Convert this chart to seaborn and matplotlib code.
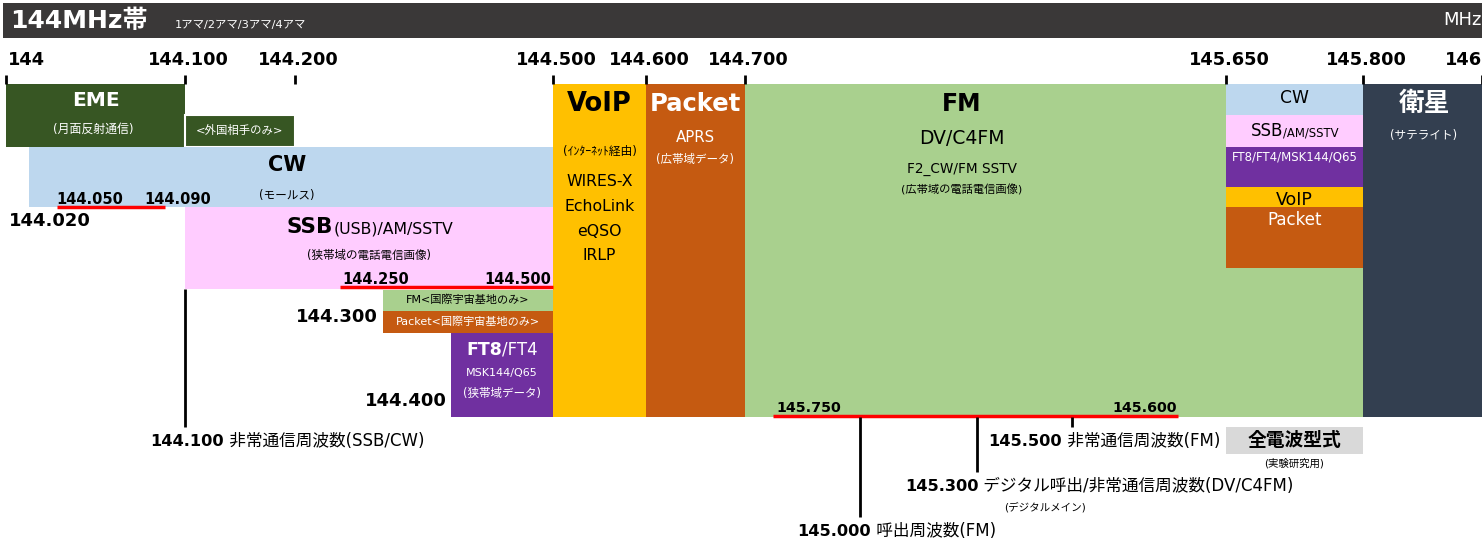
import numpy as np
import matplotlib
matplotlib.use("Agg")
import matplotlib.pyplot as plt
import seaborn as sns

# ---------------- data ----------------
tick_freqs = [144.0, 144.1, 144.2, 144.5, 144.6, 144.7, 145.65, 145.8, 146.0]
tick_labels = ["144", "144.100", "144.200", "144.500", "144.600", "144.700", "145.650", "145.800", "146"]

band_keys = ["EME", "FOREIGN", "CW", "SSB", "FM_ISS", "PKT_ISS", "FT8", "VOIP", "PACKET", "FM",
             "CW2", "SSB2", "FT82", "VOIP2", "PKT2", "SAT"]
band_start = [144.000, 144.100, 144.020, 144.100, 144.300, 144.300, 144.400, 144.500, 144.600, 144.700,
              145.650, 145.650, 145.650, 145.650, 145.650, 145.800]
band_end = [144.100, 144.200, 144.500, 144.500, 144.500, 144.500, 144.500, 144.600, 144.700, 145.800,
            145.800, 145.800, 145.800, 145.800, 145.800, 146.000]

voip_modes = ["WIRES-X", "EchoLink", "eQSO", "IRLP"]
fm_lines = ["DV/C4FM", "F2_CW/FM SSTV", "(広帯域の電話電信画像)"]

red_start = [144.050, 144.250, 144.750]
red_end = [144.090, 144.500, 145.600]

special_freqs = [144.100, 145.000, 145.300, 145.500]
special_nums = ["144.100", "145.000", "145.300", "145.500"]
special_texts = ["非常通信周波数(SSB/CW)", "呼出周波数(FM)", "デジタル呼出/非常通信周波数(DV/C4FM)", "非常通信周波数(FM)"]

# ---------------- layout ----------------
W, H = 1482, 539
ANCHOR_F = np.array([143.9, 144.0, 144.02, 144.05, 144.09, 144.1, 144.2, 144.25, 144.3, 144.4, 144.5,
                     144.6, 144.7, 144.75, 145.0, 145.3, 145.5, 145.6, 145.65, 145.8, 146.0, 146.2])
ANCHOR_PX = np.array([-173, 6, 29, 57, 165, 185, 295, 340, 383, 451, 553,
                      646, 745, 773, 860, 977, 1072, 1178, 1226, 1363, 1482, 1601], dtype=float)


def fwd(f):
    return np.interp(f, ANCHOR_F, ANCHOR_PX)


def inv(p):
    return np.interp(p, ANCHOR_PX, ANCHOR_F)


band_rows = {
    "EME": (84, 147), "FOREIGN": (115, 147), "CW": (147, 207), "SSB": (207, 289),
    "FM_ISS": (290, 311), "PKT_ISS": (311, 333), "FT8": (333, 417),
    "VOIP": (84, 417), "PACKET": (84, 417), "FM": (84, 417),
    "CW2": (84, 115), "SSB2": (115, 147), "FT82": (147, 187), "VOIP2": (187, 207), "PKT2": (207, 268),
    "SAT": (84, 417),
}
C_DKGREEN = "#375623"
C_BLUE = "#BDD7EE"
C_PINK = "#FFCCFF"
C_LGREEN = "#A9D08E"
C_ORANGE = "#C55A11"
C_PURPLE = "#7030A0"
C_YELLOW = "#FFC000"
C_NAVY = "#333F50"
band_colors = {
    "EME": C_DKGREEN, "FOREIGN": C_DKGREEN, "CW": C_BLUE, "SSB": C_PINK, "FM_ISS": C_LGREEN,
    "PKT_ISS": C_ORANGE, "FT8": C_PURPLE, "VOIP": C_YELLOW, "PACKET": C_ORANGE, "FM": C_LGREEN,
    "CW2": C_BLUE, "SSB2": C_PINK, "FT82": C_PURPLE, "VOIP2": C_YELLOW, "PKT2": C_ORANGE, "SAT": C_NAVY,
}

sns.set_theme(style="white")
plt.rcParams["font.family"] = ["DejaVu Sans", "Noto Sans CJK JP"]

fig = plt.figure(figsize=(W / 100, H / 100), dpi=100)
ax = fig.add_axes([0, 0, 1, 1])
ax.set_xscale("function", functions=(fwd, inv))
ax.set_xlim(inv(0), inv(W))
ax.set_ylim(H, 0)
ax.axis("off")
renderer = fig.canvas.get_renderer()


def X(px):
    return float(inv(px))


def mid(f0, f1):
    return X((fwd(f0) + fwd(f1)) / 2)


def txt(xpx, y, s, size, color="black", weight="normal", ha="center", va="center"):
    return ax.text(X(xpx), y, s, fontsize=size, color=color, fontweight=weight, ha=ha, va=va)


def mixed(xpx, ybase, parts, ha="center"):
    objs = []
    widths = []
    for s, size, weight, color in parts:
        t = ax.text(X(0), ybase, s, fontsize=size, fontweight=weight, color=color, ha="left", va="baseline")
        objs.append(t)
        widths.append(t.get_window_extent(renderer).width)
    total = sum(widths)
    start = xpx - total / 2 if ha == "center" else xpx
    for t, w in zip(objs, widths):
        t.set_x(X(start))
        start += w


JP = 8.3  # small Japanese captions

# header
ax.bar(X(3), 35, width=inv(W) - X(3), bottom=3, align="edge", color="#3A3838", lw=0)
txt(10, 21, "144MHz帯", 18, "white", "bold", ha="left")
txt(175, 25, "1アマ/2アマ/3アマ/4アマ", 8.2, "white", ha="left")
txt(1482, 20, "MHz", 13, "white", ha="right")

# ticks
for f, lab in zip(tick_freqs, tick_labels):
    ax.plot([f, f], [75, 84], color="black", lw=2, solid_capstyle="butt")
    if lab == "144":
        txt(8, 60, lab, 12.8, weight="bold", ha="left")
    elif lab == "146":
        txt(1445, 60, lab, 12.8, weight="bold", ha="left")
    else:
        txt(fwd(f) + 3, 60, lab, 12.8, weight="bold")

# bands
for k, f0, f1 in zip(band_keys, band_start, band_end):
    y0, y1 = band_rows[k]
    ax.bar(f0, y1 - y0, width=f1 - f0, bottom=y0, align="edge", color=band_colors[k],
           lw=1.5 if k == "FOREIGN" else 0, edgecolor="white")

b = dict(zip(band_keys, zip(band_start, band_end)))


def cx(k):
    return fwd(mid(*b[k]))


# EME
txt(cx("EME"), 100, "EME", 14.5, "white", "bold")
txt(cx("EME") - 2, 129, "(月面反射通信)", 8.6, "white")
txt(cx("FOREIGN"), 130, "<外国相手のみ>", 8.2, "white")
# CW
txt(287, 165, "CW", 15, "black", "bold")
txt(287, 195, "(モールス)", 8.4, "black")
txt(90, 199, "144.050", 10.5, weight="bold")
txt(178, 199, "144.090", 10.5, weight="bold")
txt(9, 221, "144.020", 13, weight="bold", ha="left")
# SSB
mixed(370, 233, [("SSB", 15.5, "bold", "black"), ("(USB)/AM/SSTV", 11.3, "normal", "black")])
txt(369, 255, "(狭帯域の電話電信画像)", JP, "black")
txt(376, 280, "144.250", 10.5, weight="bold")
txt(518, 280, "144.500", 10.5, weight="bold")
# ISS
txt(cx("FM_ISS"), 300, "FM<国際宇宙基地のみ>", 8, "black")
txt(cx("PKT_ISS"), 322, "Packet<国際宇宙基地のみ>", 8, "white")
txt(378, 317, "144.300", 13, weight="bold", ha="right")
# FT8
mixed(cx("FT8"), 355, [("FT8", 12.5, "bold", "white"), ("/FT4", 12, "normal", "white")])
txt(cx("FT8"), 373, "MSK144/Q65", 8, "white")
txt(cx("FT8"), 393, "(狭帯域データ)", JP, "white")
txt(447, 401, "144.400", 13, weight="bold", ha="right")
# VoIP
txt(cx("VOIP"), 104, "VoIP", 18.5, "black", "bold")
txt(cx("VOIP"), 151, "(ｲﾝﾀｰﾈｯﾄ経由)", 8.5, "black")
for i, m in enumerate(voip_modes):
    txt(cx("VOIP"), 182 + 24.5 * i, m, 11.3, "black")
# Packet
txt(cx("PACKET"), 104, "Packet", 17.5, "white", "bold")
txt(cx("PACKET"), 138, "APRS", 10.8, "white")
txt(cx("PACKET"), 160, "(広帯域データ)", JP, "white")
# FM
fmx = 962
txt(fmx, 104, "FM", 17, "black", "bold")
txt(fmx, 139, fm_lines[0], 13.5, "black")
txt(fmx, 169, fm_lines[1], 9.8, "black")
txt(fmx, 190, fm_lines[2], 8.1, "black")
# right column
txt(cx("CW2"), 98, "CW", 12.3, "black")
mixed(cx("SSB2"), 136, [("SSB", 12, "normal", "black"), ("/AM/SSTV", 8.4, "normal", "black")])
txt(cx("FT82"), 157, "FT8/FT4/MSK144/Q65", 8.5, "white")
txt(cx("VOIP2"), 200, "VoIP", 12.5, "black")
txt(cx("PKT2"), 220, "Packet", 12, "white")
# satellite
txt(1424, 104, "衛星", 18.5, "white", "bold")
txt(1424, 135, "(サテライト)", 8.4, "white")

# red sub-range lines
red_rows = [207, 287, 416]
for f0, f1, y in zip(red_start, red_end, red_rows):
    ax.plot([f0, f1], [y, y], color="#FF0000", lw=2.5, solid_capstyle="butt")
txt(809, 408, "145.750", 10.3, weight="bold")
txt(1145, 408, "145.600", 10.3, weight="bold")

# special frequencies
line_rows = [(289, 427), (417, 517), (417, 472), (417, 427)]
label_pos = [(150, 441), (797, 531), (905, 486), (988, 441)]
for f, (y0, y1), num, t, (lx, ly) in zip(special_freqs, line_rows, special_nums, special_texts, label_pos):
    ax.plot([f, f], [y0, y1], color="black", lw=2, solid_capstyle="butt")
    mixed(lx, ly + 5, [(num, 11.7, "bold", "black"), (" " + t, 12, "normal", "black")], ha="left")
txt(1045, 507, "(デジタルメイン)", 7.6, "black")

# all modes box
ax.bar(145.65, 27, width=0.15, bottom=427, align="edge", color="#D9D9D9", lw=0)
txt(cx("CW2"), 441, "全電波型式", 13.5, "black", "bold")
txt(cx("CW2"), 463, "(実験研究用)", 7.5, "black")

fig.savefig("out.png", dpi=100)
